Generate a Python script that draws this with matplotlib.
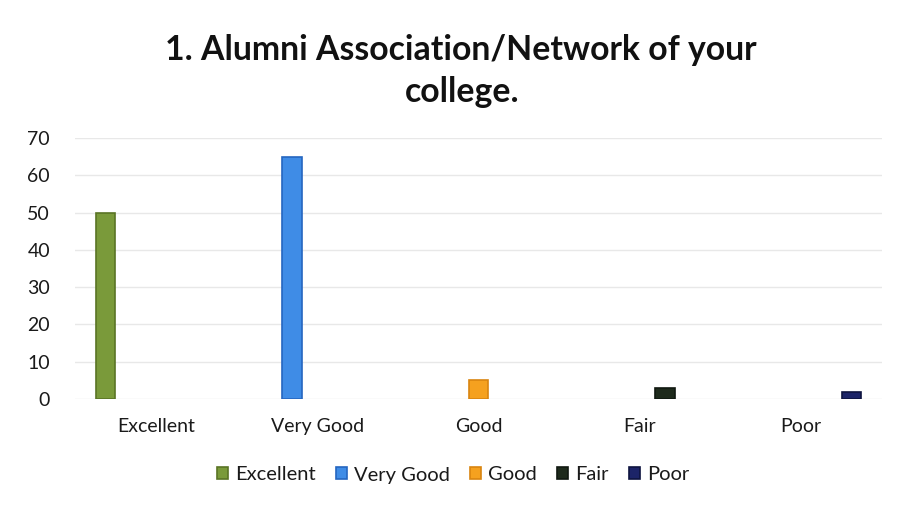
import matplotlib
matplotlib.use("Agg")
import matplotlib.pyplot as plt
import numpy as np

categories = ["Excellent", "Very Good", "Good", "Fair", "Poor"]
series_names = ["Excellent", "Very Good", "Good", "Fair", "Poor"]
values = [50, 65, 5, 3, 2]
colors = ["#7A9A3A", "#3F8CE6", "#F5A11F", "#1E2A1C", "#1C2468"]
edges = ["#5A7425", "#2566C0", "#D98510", "#101810", "#0E1440"]
yticks = [0, 10, 20, 30, 40, 50, 60, 70]

plt.rcParams['font.family'] = ['Lato', 'DejaVu Sans']

fig = plt.figure(figsize=(8.99, 5.07), dpi=100)
ax = fig.add_axes([75/899, 1-399/507, (882-75)/899, (399-138)/507])

x = np.arange(len(categories))
slot = 0.155
bw = 0.12
for i, (name, v) in enumerate(zip(series_names, values)):
    ax.bar(x + (i - 2) * slot, [v if k == i else np.nan for k in range(len(categories))],
           width=bw, color=colors[i], edgecolor=edges[i], linewidth=1.2, label=name, zorder=3)

ax.set_xlim(-0.5, len(categories) - 0.5)
ax.set_ylim(0, 70)
ax.set_yticks(yticks)
ax.set_xticks(x)
ax.set_xticklabels(categories, fontsize=14, color="#1A1A1A")
ax.set_yticklabels([str(t) for t in yticks], fontsize=14, color="#1A1A1A")
ax.tick_params(axis='both', length=0)
ax.tick_params(axis='x', pad=14)
ax.tick_params(axis='y', pad=18)
ax.grid(axis='y', color="#E8E8E8", linewidth=1.0, zorder=0)
for s in ax.spines.values():
    s.set_visible(False)

fig.text(461/899, 1-50/507, "1. Alumni Association/Network of your", ha='center', va='center',
         fontsize=24.3, fontweight='bold', color="#111111")
fig.text(462/899, 1-92/507, "college.", ha='center', va='center',
         fontsize=24.3, fontweight='bold', color="#111111")

leg = fig.legend(loc='center', bbox_to_anchor=(453/899, 1-475/507), ncol=5, frameon=False,
                 fontsize=14.5, handlelength=0.55, handleheight=0.55, handletextpad=0.35,
                 columnspacing=1.0)
for t in leg.get_texts():
    t.set_color("#1A1A1A")

fig.savefig("out.png", dpi=100)
